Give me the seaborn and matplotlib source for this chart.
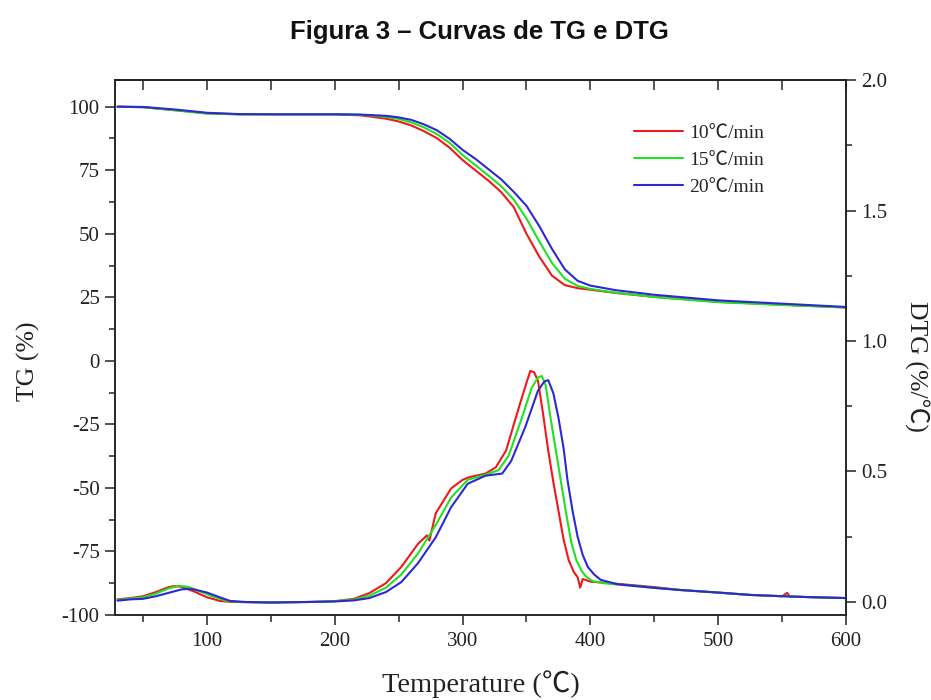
import matplotlib
matplotlib.use("Agg")
import matplotlib.pyplot as plt
from matplotlib.ticker import MultipleLocator
from matplotlib.lines import Line2D
import seaborn as sns
import pandas as pd

# ---------------- data ----------------
series_labels = ["10℃/min", "15℃/min", "20℃/min"]
series_colors = ["#f01818", "#22e022", "#2a2ad0"]

tg_temp = [30, 50, 75, 100, 125, 150, 175, 200, 220, 240, 250, 260, 270, 280, 290,
           300, 310, 320, 330, 340, 350, 360, 370, 380, 390, 400, 420, 450, 500, 550, 600]
tg_10 = [100, 99.8, 98.6, 97.4, 97.0, 97.0, 97.0, 97.0, 96.6, 95.3, 94.2, 92.6, 90.3, 87.6, 83.8,
         79.0, 75.0, 71.0, 66.5, 60.5, 50.0, 41.0, 33.5, 29.8, 28.6, 28.0, 26.7, 25.2, 23.2, 22.1, 21.0]
tg_15 = [100, 99.8, 98.6, 97.3, 97.0, 97.0, 97.0, 97.0, 96.8, 96.0, 95.2, 93.8, 91.8, 89.2, 85.7,
         81.0, 77.0, 73.0, 68.8, 63.5, 56.0, 47.0, 38.5, 32.3, 29.5, 28.3, 26.8, 25.1, 23.1, 22.0, 21.0]
tg_20 = [100, 99.9, 98.9, 97.6, 97.1, 97.0, 97.0, 97.0, 96.9, 96.4, 95.8, 94.8, 93.0, 90.7, 87.3,
         83.0, 79.5, 75.5, 71.5, 66.5, 61.0, 53.0, 44.0, 36.0, 31.5, 29.6, 27.8, 26.0, 23.8, 22.5, 21.2]

dtg_temp_10 = [30, 40, 50, 60, 70, 75, 80, 90, 100, 110, 120, 150, 180, 200, 215, 227, 240, 252,
               265, 272, 274, 279, 291, 300, 305, 318, 326, 334, 344, 350, 353, 356, 359, 363, 367,
               371, 375, 379, 383, 387, 390, 392, 394, 400, 420, 450, 470, 500, 525, 550, 554,
               556, 575, 600]
dtg_10 = [0.010, 0.015, 0.022, 0.038, 0.057, 0.061, 0.058, 0.040, 0.018, 0.004, 0.0, -0.002, 0.0,
          0.003, 0.012, 0.034, 0.072, 0.134, 0.222, 0.255, 0.235, 0.34, 0.435, 0.468, 0.478, 0.492,
          0.516, 0.58, 0.745, 0.84, 0.885, 0.88, 0.847, 0.72, 0.58, 0.46, 0.35, 0.24, 0.16, 0.115,
          0.095, 0.055, 0.088, 0.078, 0.070, 0.057, 0.046, 0.036, 0.027, 0.022, 0.035, 0.021,
          0.018, 0.015]

dtg_temp_15 = [30, 40, 50, 60, 70, 78, 85, 95, 105, 115, 125, 150, 180, 200, 215, 227, 240, 252,
               265, 279, 291, 304, 318, 328, 336, 346, 354, 359, 362, 365, 369, 373, 377, 381, 385,
               389, 393, 397, 402, 410, 421, 450, 470, 500, 525, 550, 575, 600]
dtg_15 = [0.008, 0.013, 0.018, 0.032, 0.052, 0.062, 0.058, 0.040, 0.020, 0.005, 0.0, -0.002, 0.0,
          0.003, 0.009, 0.024, 0.055, 0.105, 0.185, 0.295, 0.400, 0.468, 0.488, 0.505, 0.56, 0.70,
          0.82, 0.86, 0.866, 0.83, 0.70, 0.58, 0.46, 0.34, 0.23, 0.16, 0.12, 0.095, 0.08, 0.072,
          0.067, 0.054, 0.046, 0.036, 0.027, 0.022, 0.018, 0.015]

dtg_temp_20 = [30, 40, 50, 60, 70, 80, 85, 90, 100, 110, 118, 130, 150, 180, 200, 215, 227, 240,
               252, 265, 279, 291, 304, 318, 331, 338, 349, 359, 364, 367, 371, 375, 379, 382, 386,
               390, 394, 398, 403, 408, 421, 450, 470, 500, 525, 550, 575, 600]
dtg_20 = [0.005, 0.010, 0.012, 0.022, 0.035, 0.048, 0.050, 0.048, 0.036, 0.018, 0.004, 0.0, -0.002,
          0.0, 0.002, 0.006, 0.015, 0.038, 0.076, 0.148, 0.248, 0.363, 0.453, 0.484, 0.492, 0.54,
          0.67, 0.81, 0.845, 0.85, 0.80, 0.706, 0.59, 0.47, 0.35, 0.25, 0.18, 0.134, 0.105, 0.085,
          0.068, 0.054, 0.046, 0.036, 0.027, 0.022, 0.018, 0.015]

x_ticks = [100, 200, 300, 400, 500, 600]
tg_ticks = [-100, -75, -50, -25, 0, 25, 50, 75, 100]
dtg_ticks = [0.0, 0.5, 1.0, 1.5, 2.0]

# ---------------- frames ----------------
tg_df = pd.concat([
    pd.DataFrame({"T": tg_temp, "v": vals, "s": lab})
    for vals, lab in zip([tg_10, tg_15, tg_20], series_labels)
], ignore_index=True)
dtg_df = pd.concat([
    pd.DataFrame({"T": t, "v": vals, "s": lab})
    for t, vals, lab in zip([dtg_temp_10, dtg_temp_15, dtg_temp_20],
                            [dtg_10, dtg_15, dtg_20], series_labels)
], ignore_index=True)
palette = dict(zip(series_labels, series_colors))

# ---------------- style ----------------
sns.set_theme(style="white")
serif = ["Liberation Serif", "Noto Sans CJK SC", "DejaVu Serif"]
plt.rcParams["font.family"] = serif
plt.rcParams["axes.edgecolor"] = "#222222"
plt.rcParams["axes.linewidth"] = 1.1

fig = plt.figure(figsize=(9.31, 7.0), dpi=100)
ax = fig.add_axes([0.1235, 0.1214, 0.7852, 0.7643])
ax2 = ax.twinx()

sns.lineplot(data=tg_df, x="T", y="v", hue="s", palette=palette, hue_order=series_labels,
             estimator=None, sort=False, linewidth=1.5, ax=ax, legend=False)
sns.lineplot(data=dtg_df, x="T", y="v", hue="s", palette=palette, hue_order=series_labels,
             estimator=None, sort=False, linewidth=1.5, ax=ax2, legend=False)

ax.set_xlim(28, 600)
ax.set_ylim(-100, 110.5)
ax2.set_ylim(-0.05, 2.0)

ax.set_xticks(x_ticks)
ax.xaxis.set_minor_locator(MultipleLocator(50))
ax.set_yticks(tg_ticks)
ax.yaxis.set_minor_locator(MultipleLocator(12.5))
ax2.set_yticks(dtg_ticks)
ax2.yaxis.set_minor_locator(MultipleLocator(0.25))

lab_fs = 15
ax.tick_params(axis="x", which="major", direction="out", length=7, width=1.1,
               labelsize=lab_fs, colors="#222222", bottom=True, top=False, pad=5)
ax.tick_params(axis="x", which="minor", direction="out", length=5, width=1.1,
               bottom=True, top=False)
ax.tick_params(axis="y", which="major", direction="out", length=7, width=1.1,
               labelsize=lab_fs, colors="#222222", left=True, pad=4)
ax.tick_params(axis="y", which="minor", direction="out", length=4, width=1.1, left=True)
ax2.tick_params(axis="y", which="major", direction="out", length=7, width=1.1,
                labelsize=lab_fs, colors="#222222", right=True, pad=4)
ax2.tick_params(axis="y", which="minor", direction="out", length=4, width=1.1, right=True)
ax.set_xticklabels([str(v) for v in x_ticks])
ax.set_yticklabels([str(v) for v in tg_ticks])
ax2.set_yticklabels([f"{v:.1f}" for v in dtg_ticks])

top = ax.secondary_xaxis("top")
top.set_xticks(x_ticks)
top.xaxis.set_minor_locator(MultipleLocator(50))
top.tick_params(axis="x", which="both", direction="in", length=7, width=1.1, labeltop=False)
top.set_xticklabels([])

for a in (ax, ax2):
    for sp in a.spines.values():
        sp.set_color("#222222")
        sp.set_linewidth(1.1)

ax.set_xlabel("Temperature (℃)", fontsize=20.5, color="#222222")
ax.set_ylabel("TG (%)", fontsize=18.5, color="#222222")
ax2.set_ylabel("DTG (%/℃)", fontsize=18.5, color="#222222", rotation=270)
ax.xaxis.set_label_coords(0.5, -0.13)
ax.yaxis.set_label_coords(-0.118, 0.474)
ax2.yaxis.set_label_coords(1.097, 0.465)
ax.xaxis.label.set_va("center")
ax.yaxis.label.set_va("center")
ax2.yaxis.label.set_va("center")

handles = [Line2D([0], [0], color=c, lw=1.5) for c in series_colors]
ax.legend(handles, series_labels, loc="upper left", bbox_to_anchor=(0.7, 0.932),
          frameon=False, fontsize=14, handlelength=2.5, handletextpad=0.3,
          labelspacing=0.48, borderaxespad=0)

fig.text(0.515, 0.955, "Figura 3 – Curvas de TG e DTG", ha="center", va="center",
         fontsize=18.5, fontweight="bold", family=["Liberation Sans", "DejaVu Sans"],
         color="#111111")

fig.savefig("out.png", dpi=100, facecolor="white")
